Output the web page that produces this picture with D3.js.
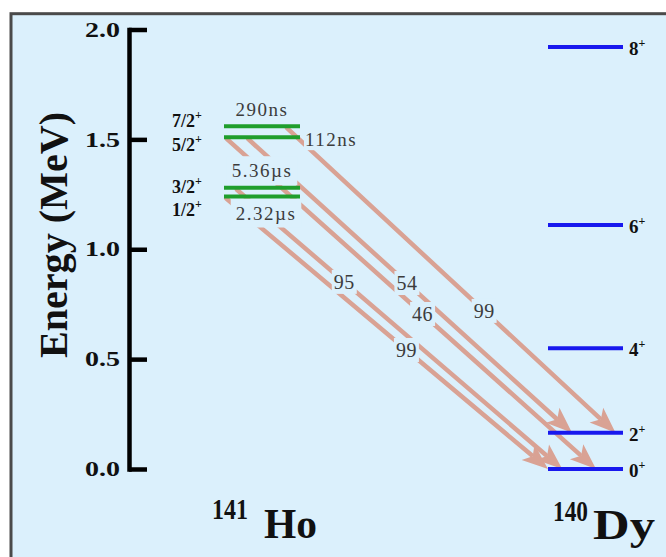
<!DOCTYPE html>
<html><head><meta charset="utf-8">
<script src="https://cdn.jsdelivr.net/npm/d3@7"></script>
<style>html,body{margin:0;padding:0;background:#fff;} svg{display:block;}</style>
</head><body>
<script>
// ---------------- data ----------------
const energyTicks = [0, 0.5, 1.0, 1.5, 2.0];
const tickLabels = ["0.0", "0.5", "1.0", "1.5", "2.0"];
const axisTitle = "Energy (MeV)";

const nuclei = ["141Ho", "140Dy"];
const nucleusMass = ["141", "140"];
const nucleusSymbol = ["Ho", "Dy"];

// 141Ho isomeric levels
const hoSpins = ["7/2", "5/2", "3/2", "1/2"];
const hoEnergies = [1.56, 1.51, 1.28, 1.24];
const hoLifetimes = ["290ns", "112ns", "5.36µs", "2.32µs"];

// 140Dy ground-state band
const dySpins = ["8", "6", "4", "2", "0"];
const dyEnergies = [1.92, 1.11, 0.55, 0.165, 0.0];

// proton-emission branches
const transFrom = ["7/2", "5/2", "5/2", "3/2", "1/2"];
const transTo = ["2", "2", "0", "0", "0"];
const branching = [99, 54, 46, 95, 99];

// ---------------- layout ----------------
const W = 666, H = 557;
const FONT = "'Liberation Serif', 'Times New Roman', Times, serif";
const bg = "#dbf0fc";
const arrowColor = "#d9a294";
const startFrac = [0.83, 0.32, 0.04, 0.17, 0.03];
const endFrac   = [0.90, 0.32, 0.64, 0.19, 0.00];
const labelAt   = [0.60, 0.49, 0.53, 0.33, 0.56];
const hoLabelDy = [1, 14, 5, 19];
const lifePlace = ["above", "right", "above", "below"];

const svg = d3.select("body").append("svg").attr("width", W).attr("height", H);

svg.append("rect").attr("x", 11).attr("y", 13.7).attr("width", 700).attr("height", 600)
  .attr("fill", bg).attr("stroke", "#4a4a4a").attr("stroke-width", 3);

const y = d3.scaleLinear().domain([0, 2]).range([469, 29.5]);
const x = d3.scalePoint().domain(nuclei).range([262, 585.5]);
const halfHo = 38, halfDy = 37.5;

const axis = d3.axisLeft(y).tickValues(energyTicks)
  .tickFormat(d => tickLabels[energyTicks.indexOf(d)])
  .tickSizeInner(-18).tickSizeOuter(0).tickPadding(9);
const gA = svg.append("g").attr("transform", "translate(129,0)").call(axis);
gA.select(".domain").attr("stroke", "#000").attr("stroke-width", 4.5).attr("stroke-linecap", "square");
gA.selectAll(".tick line").attr("stroke", "#000").attr("stroke-width", 4.5);
gA.selectAll(".tick text").attr("fill", "#111")
  .attr("font-family", FONT).attr("font-weight", "bold")
  .attr("font-size", 21).attr("textLength", 35).attr("lengthAdjust", "spacingAndGlyphs");

svg.append("text").attr("transform", "translate(67,235) rotate(-90)")
  .attr("text-anchor", "middle").attr("font-family", FONT)
  .attr("font-weight", "bold").attr("font-size", 40).attr("fill", "#111")
  .attr("textLength", 246).attr("lengthAdjust", "spacingAndGlyphs")
  .text(axisTitle);

const gArrows = svg.append("g");
const gBoxes = svg.append("g");
const gLevels = svg.append("g");
const gText = svg.append("g");

const headL = 26, headW = 10;
const labelPts = [];
transFrom.forEach((f, i) => {
  const e0 = hoEnergies[hoSpins.indexOf(f)];
  const e1 = dyEnergies[dySpins.indexOf(transTo[i])];
  const sx = x(nuclei[0]) - halfHo + startFrac[i] * 2 * halfHo, sy = y(e0) + 2;
  const tx = x(nuclei[1]) - halfDy + endFrac[i] * 2 * halfDy, ty = y(e1);
  const dx = tx - sx, dy = ty - sy, len = Math.hypot(dx, dy);
  const ux = dx / len, uy = dy / len, px = -uy, py = ux;
  const bx = tx - ux * headL, by = ty - uy * headL;
  gArrows.append("line").attr("x1", sx).attr("y1", sy)
    .attr("x2", bx + ux * 4).attr("y2", by + uy * 4)
    .attr("stroke", arrowColor).attr("stroke-width", 4.5).attr("stroke-linecap", "round");
  gArrows.append("path")
    .attr("d", `M${tx},${ty}L${bx + px * headW},${by + py * headW}L${bx + ux * 6},${by + uy * 6}L${bx - px * headW},${by - py * headW}Z`)
    .attr("fill", arrowColor);
  labelPts.push([sx + dx * labelAt[i], sy + dy * labelAt[i]]);
});

function boxed(t, pad) {
  const b = t.node().getBBox();
  gBoxes.append("rect").attr("x", b.x - pad).attr("y", b.y - pad + 1)
    .attr("width", b.width + 2 * pad).attr("height", b.height + 2 * pad - 2).attr("fill", bg);
}

branching.forEach((b, i) => {
  const t = gText.append("text").attr("x", labelPts[i][0]).attr("y", labelPts[i][1])
    .attr("dy", "0.35em").attr("text-anchor", "middle")
    .attr("font-family", FONT).attr("font-size", 20)
    .attr("letter-spacing", 0.5).attr("fill", "#3c3c3c").text(b);
  boxed(t, 2);
});

hoEnergies.forEach((e, i) => {
  gLevels.append("line").attr("x1", x(nuclei[0]) - halfHo).attr("x2", x(nuclei[0]) + halfHo)
    .attr("y1", y(e)).attr("y2", y(e)).attr("stroke", "#1f9e2c").attr("stroke-width", 4);
  const t = gText.append("text").attr("x", 172).attr("y", y(e) + hoLabelDy[i])
    .attr("font-family", FONT).attr("font-weight", "bold")
    .attr("font-size", 18).attr("fill", "#111");
  t.append("tspan").text(hoSpins[i]);
  t.append("tspan").attr("dy", -8).attr("font-size", 12).text("+");
  const lt = gText.append("text").attr("font-family", FONT)
    .attr("font-size", 19).attr("fill", "#3c3c3c")
    .attr("letter-spacing", 1.5).text(hoLifetimes[i]);
  const p = lifePlace[i];
  if (p === "right") {
    lt.attr("x", x(nuclei[0]) + halfHo + 5).attr("y", y(e) + 9).attr("text-anchor", "start");
  } else if (p === "above") {
    lt.attr("x", x(nuclei[0])).attr("y", y(e) - 10.5).attr("text-anchor", "middle");
  } else {
    lt.attr("x", x(nuclei[0]) + 4).attr("y", y(e) + 23).attr("text-anchor", "middle");
  }
  boxed(lt, p === "right" ? 1 : 5);
});

dyEnergies.forEach((e, i) => {
  gLevels.append("line").attr("x1", x(nuclei[1]) - halfDy).attr("x2", x(nuclei[1]) + halfDy)
    .attr("y1", y(e)).attr("y2", y(e)).attr("stroke", "#1818ee").attr("stroke-width", 4);
  const t = gText.append("text").attr("x", x(nuclei[1]) + halfDy + 6).attr("y", y(e) + 8)
    .attr("font-family", FONT).attr("font-weight", "bold")
    .attr("font-size", 19).attr("fill", "#111");
  t.append("tspan").text(dySpins[i]);
  t.append("tspan").attr("dy", -8).attr("font-size", 12).text("+");
});

const massPos = [[212, 519, 36], [553, 521, 35]];
const symPos = [[264, 538, 53], [593, 539, 62]];
nuclei.forEach((n, i) => {
  gText.append("text").attr("x", massPos[i][0]).attr("y", massPos[i][1])
    .attr("font-family", FONT).attr("font-weight", "bold")
    .attr("font-size", 30).attr("fill", "#111")
    .attr("textLength", massPos[i][2]).attr("lengthAdjust", "spacingAndGlyphs")
    .text(nucleusMass[i]);
  gText.append("text").attr("x", symPos[i][0]).attr("y", symPos[i][1])
    .attr("font-family", FONT).attr("font-weight", "bold")
    .attr("font-size", 43).attr("fill", "#111")
    .attr("textLength", symPos[i][2]).attr("lengthAdjust", "spacingAndGlyphs")
    .text(nucleusSymbol[i]);
});
</script>
</body></html>
